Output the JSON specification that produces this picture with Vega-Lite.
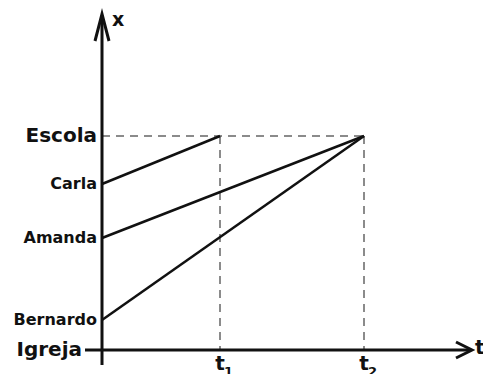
{
  "$schema": "https://vega.github.io/schema/vega-lite/v6.json",
  "width": 483,
  "height": 374,
  "autosize": "none",
  "padding": 0,
  "background": "white",
  "config": {"view": {"stroke": null}},
  "datasets": {
    "guides": [
      {"seg": "escola", "o": 1, "t": 0, "x": 21.4},
      {"seg": "escola", "o": 2, "t": 26.2, "x": 21.4},
      {"seg": "t1", "o": 1, "t": 11.8, "x": 21.4},
      {"seg": "t1", "o": 2, "t": 11.8, "x": 0},
      {"seg": "t2", "o": 1, "t": 26.2, "x": 21.4},
      {"seg": "t2", "o": 2, "t": 26.2, "x": 0}
    ],
    "paths": [
      {"name": "Carla", "t": 0, "x": 16.6},
      {"name": "Carla", "t": 11.8, "x": 21.4},
      {"name": "Amanda", "t": 0, "x": 11.2},
      {"name": "Amanda", "t": 26.2, "x": 21.4},
      {"name": "Bernardo", "t": 0, "x": 3.0},
      {"name": "Bernardo", "t": 26.2, "x": 21.4}
    ],
    "axes": [
      {"seg": "yaxis", "o": 1, "t": 0, "x": -1.5},
      {"seg": "yaxis", "o": 2, "t": 0, "x": 33.4},
      {"seg": "xaxis", "o": 1, "t": -1.7, "x": 0},
      {"seg": "xaxis", "o": 2, "t": 36.9, "x": 0},
      {"seg": "yarrow", "o": 1, "t": -0.7, "x": 30.9},
      {"seg": "yarrow", "o": 2, "t": 0, "x": 33.6},
      {"seg": "yarrow", "o": 3, "t": 0.7, "x": 30.9},
      {"seg": "xarrow", "o": 1, "t": 35.4, "x": 0.8},
      {"seg": "xarrow", "o": 2, "t": 37.0, "x": 0},
      {"seg": "xarrow", "o": 3, "t": 35.4, "x": -0.8}
    ],
    "bigLabels": [
      {"label": "Escola", "t": 0, "x": 21.4}
    ],
    "churchLabel": [
      {"label": "Igreja", "t": 0, "x": 0}
    ],
    "smallLabels": [
      {"label": "Carla", "t": 0, "x": 16.6},
      {"label": "Amanda", "t": 0, "x": 11.2},
      {"label": "Bernardo", "t": 0, "x": 3.0}
    ],
    "timeLabels": [
      {"label": "t", "sub": "1", "t": 11.8, "x": 0},
      {"label": "t", "sub": "2", "t": 26.2, "x": 0}
    ],
    "axisNameX": [{"label": "x", "t": 0, "x": 33.6}],
    "axisNameT": [{"label": "t", "t": 37.0, "x": 0}]
  },
  "encoding": {
    "x": {"field": "t", "type": "quantitative", "scale": {"domain": [-10.2, 38.1], "nice": false, "zero": false}, "axis": null},
    "y": {"field": "x", "type": "quantitative", "scale": {"domain": [-2.4, 35.0], "nice": false, "zero": false}, "axis": null}
  },
  "layer": [
    {
      "data": {"name": "guides"},
      "mark": {"type": "line", "color": "#666666", "strokeWidth": 1.5, "strokeDash": [8, 6]},
      "encoding": {"detail": {"field": "seg"}, "order": {"field": "o"}}
    },
    {
      "data": {"name": "paths"},
      "mark": {"type": "line", "color": "#111111", "strokeWidth": 2.5},
      "encoding": {"detail": {"field": "name"}}
    },
    {
      "data": {"name": "axes"},
      "mark": {"type": "line", "color": "#111111", "strokeWidth": 3, "strokeJoin": "miter"},
      "encoding": {"detail": {"field": "seg"}, "order": {"field": "o"}}
    },
    {
      "data": {"name": "bigLabels"},
      "mark": {"type": "text", "font": "DejaVu Sans", "fontWeight": "bold", "fontSize": 20, "align": "right", "baseline": "middle", "dx": -5, "color": "#111111"},
      "encoding": {"text": {"field": "label"}}
    },
    {
      "data": {"name": "churchLabel"},
      "mark": {"type": "text", "font": "DejaVu Sans", "fontWeight": "bold", "fontSize": 20, "align": "right", "baseline": "middle", "dx": -20, "color": "#111111"},
      "encoding": {"text": {"field": "label"}}
    },
    {
      "data": {"name": "smallLabels"},
      "mark": {"type": "text", "font": "DejaVu Sans", "fontWeight": "bold", "fontSize": 16, "align": "right", "baseline": "middle", "dx": -5, "color": "#111111"},
      "encoding": {"text": {"field": "label"}}
    },
    {
      "data": {"name": "timeLabels"},
      "mark": {"type": "text", "font": "DejaVu Sans", "fontWeight": "bold", "fontSize": 20, "align": "center", "baseline": "middle", "dy": 14, "color": "#111111"},
      "encoding": {"text": {"field": "label"}}
    },
    {
      "data": {"name": "timeLabels"},
      "mark": {"type": "text", "font": "DejaVu Sans", "fontWeight": "bold", "fontSize": 13, "align": "left", "baseline": "middle", "dx": 4, "dy": 22, "color": "#111111"},
      "encoding": {"text": {"field": "sub"}}
    },
    {
      "data": {"name": "axisNameX"},
      "mark": {"type": "text", "font": "DejaVu Sans", "fontWeight": "bold", "fontSize": 19, "align": "left", "baseline": "middle", "dx": 10, "dy": 6, "color": "#111111"},
      "encoding": {"text": {"field": "label"}}
    },
    {
      "data": {"name": "axisNameT"},
      "mark": {"type": "text", "font": "DejaVu Sans", "fontWeight": "bold", "fontSize": 20, "align": "left", "baseline": "middle", "dx": 3, "dy": -2, "color": "#111111"},
      "encoding": {"text": {"field": "label"}}
    }
  ]
}
